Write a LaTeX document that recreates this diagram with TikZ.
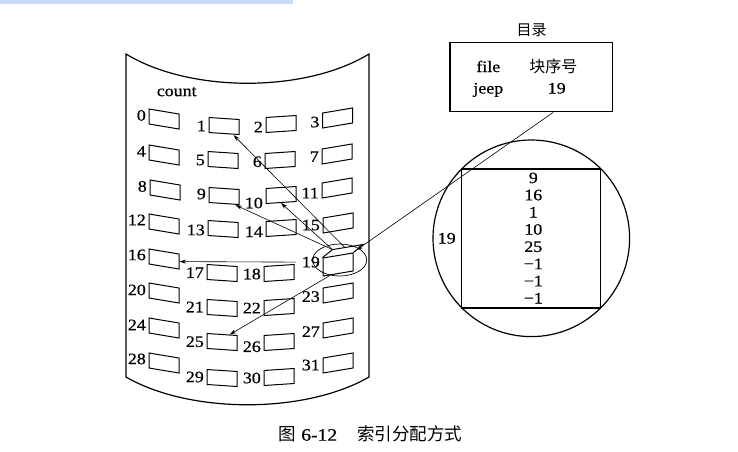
\documentclass[tikz,border=0pt]{standalone}
\usepackage{fontspec}
\setmainfont{Liberation Serif}[FakeStretch=1.12, FakeBold=0.6]
\newfontfamily\cjk{Noto Sans CJK SC}
\usepackage{xcolor}
\usetikzlibrary{arrows.meta, positioning, shapes.geometric, calc}
\definecolor{barblue}{RGB}{201,218,248}

\begin{document}
\begin{tikzpicture}[
    x=1pt, y=-1pt,
    blk/.style={
        draw, line width=1pt, minimum width=30pt, minimum height=15pt,
        inner sep=0pt, transform shape
    },
    num/.style={inner sep=0pt, font=\fontsize{16}{18}\selectfont},
    cjktext/.style={inner sep=0pt, font=\cjk\fontsize{15}{18}\selectfont},
    link/.style={-{Stealth[length=6.5pt, width=4pt]}, line width=0.6pt},
    outline/.style={line width=1.2pt}
]
\useasboundingbox (0,0) rectangle (738,451);
\fill[barblue] (0,0) rectangle (293,4);

% disk surface
\draw[outline] (126,54) .. controls (190,93) and (305,93) .. (369,54)
    -- (369,377) .. controls (305,414) and (190,414) .. (126,377) -- cycle;
\node[num] (count) at (176.7,91.7) {count};

% blocks: name/x/y/slant/label shift
\foreach \n/\x/\y/\sl/\dy in {
    0/164/119/-0.167/1, 4/164/155/-0.167/1, 8/165/190/-0.167/1, 12/164/224/-0.167/1.5,
    16/164/259/-0.167/1.5, 20/164/293/-0.167/0.5, 24/164/328/-0.167/0.5, 28/164/363/-0.167/1.5,
    1/224/126/-0.067/-1, 5/223/160/-0.067/-1, 9/224/196/-0.067/1, 13/223/229/-0.067/-2,
    17/222/273/-0.067/-0.7, 21/222/308/-0.067/0, 25/222/342/-0.067/-0.7, 29/222/378/-0.067/0,
    2/281/124/0.067/-2, 6/280/160/0.067/-0.7, 10/281/195/0.067/-7, 14/281/228/0.067/-2.7,
    18/279/273/0.067/0, 22/279/307/0.067/0, 26/279/342/0.067/-3.7, 30/279/377/0.067/0,
    3/337.5/118/0.167/-1.5, 7/337/154/0.167/0, 11/337/188/0.167/-2.5, 15/338/223/0.167/0.5,
    23/338/293/0.167/-1, 27/338/328/0.167/-1, 31/338/363/0.167/0.5
}{
    \node[blk, yslant=\sl] (b\n) at (\x,\y) {};
    \node[num, anchor=east] (l\n) at ([xshift=-2.5pt, yshift=\dy pt]b\n.west) {\n};
}

% block 19 with its top face
\node[blk, yslant=0.167, minimum height=18pt] (b19) at (338,264.5) {};
\node[num, anchor=east] (l19) at ([xshift=-2.5pt, yshift=5pt]b19.west) {19};
\coordinate (t19l) at ([shift={(10pt,8pt)}]b19.north west);
\coordinate (t19r) at ([shift={(10pt,8pt)}]b19.north east);
\draw[line width=1pt] (b19.north west) -- (t19l) -- (t19r) -- (b19.north east);
\node[draw, ellipse, line width=0.7pt, minimum width=54pt, minimum height=32pt] (e19) at (339.7,260) {};

\draw[link] ($(t19l)!0.4!(t19r)$) -- ([xshift=-6pt]b1.south east);
\draw[link] (t19l) -- ([xshift=-4pt]b9.south east);
\draw[link] (t19l) -- (b10.south);
\draw[link] ([xshift=-6pt]l19.west) -- (b16.east);
\draw[link] ($(b19.south west)!0.25!(b19.south east)$) -- ($(b25.north)!0.5!(b25.north east)$);

% directory
\node[draw, outline, minimum width=162.7pt, minimum height=69.4pt] (dir) at (531.3,77) {};
\node[cjktext] (dirtitle) at (531.7,30) {目录};
\node[num, anchor=base] (hfile) at (488.3,72) {file};
\node[cjktext, anchor=base, font=\cjk\fontsize{16}{18}\selectfont] (hblk) at (553.3,72) {块序号};
\node[num, anchor=base] (jeep) at (488.3,93.5) {jeep};
\node[num, anchor=base] (jeepblk) at (556.7,93.5) {19};

\draw[link] ([xshift=22pt]dir.south) -- ($(b19.north east)!0.3!(t19r)$);

% index block
\node[draw, outline, circle, inner sep=0pt, minimum size=196.6pt] (mag) at (531.3,238.3) {};
\node[draw, line width=1.3pt, inner sep=0pt, minimum size=139pt] (tbl) at (531.2,238.5) {};
\node[num, align=center, font=\fontsize{16}{17.2}\selectfont] (lst) at (533.3,238) {9\\16\\1\\10\\25\\−1\\−1\\−1};
\node[num] (tbl19) at (446.7,238.3) {19};

\node[cjktext, font=\cjk\fontsize{17.5}{20}\selectfont] (cap) at (370.5,434)
    {图\hspace{5pt}{\rmfamily 6-12}\hspace{20pt}索引分配方式};

\end{tikzpicture}
\end{document}
